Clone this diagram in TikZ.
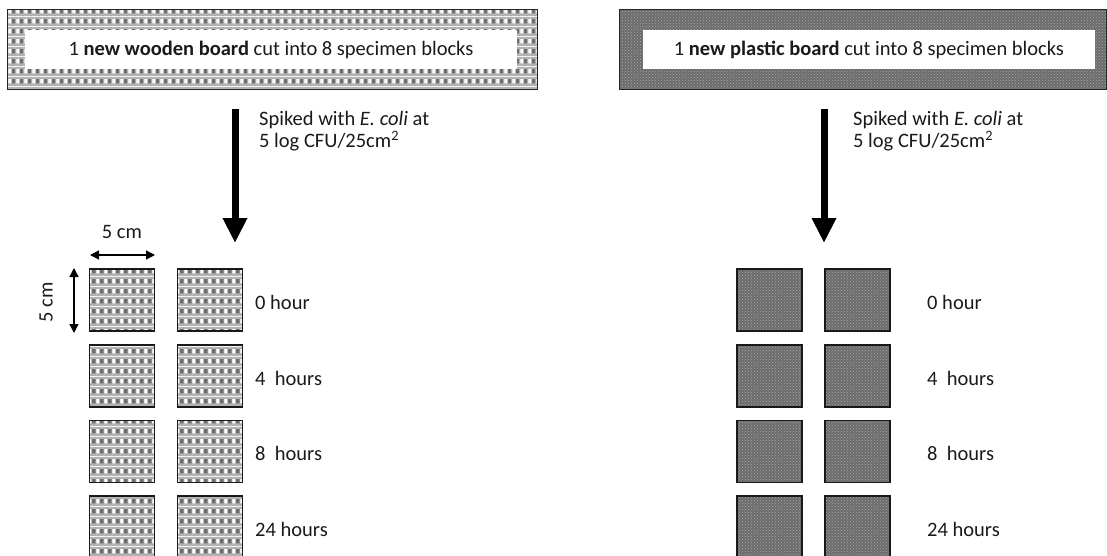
\documentclass[tikz,border=0pt]{standalone}
\usepackage{fontspec}
\setmainfont{Carlito}
\usetikzlibrary{arrows.meta,patterns}
\definecolor{woodgray}{HTML}{B2B2B2}
\definecolor{wooddark}{HTML}{6E6E6E}
\definecolor{plasticgray}{HTML}{6C6C6C}
\definecolor{plasticdot}{HTML}{A8A8A8}
\definecolor{txt}{HTML}{1A1A1A}
\pgfdeclarepatterninherentlycolored{woodgrid}{\pgfpointorigin}{\pgfqpoint{8pt}{10pt}}{\pgfqpoint{8pt}{10pt}}{%
  \pgfsetfillcolor{woodgray}\pgfpathrectangle{\pgfpointorigin}{\pgfqpoint{8pt}{10pt}}\pgfusepath{fill}%
  \pgfsetfillcolor{white}\pgfpathrectangle{\pgfqpoint{0.4pt}{2.8pt}}{\pgfqpoint{3.4pt}{4.6pt}}\pgfusepath{fill}%
  \pgfsetfillcolor{wooddark}\pgfpathrectangle{\pgfqpoint{4.4pt}{2.8pt}}{\pgfqpoint{3.4pt}{4.6pt}}\pgfusepath{fill}%
}
\newcommand{\fsz}{\fontsize{20.5pt}{22pt}\selectfont}
\begin{document}
\begin{tikzpicture}[x=1pt,y=-1pt,
  plastictex/.style={preaction={fill=plasticgray}, pattern=crosshatch dots, pattern color=plasticdot},
  woodbanner/.style={draw=black!85, line width=1pt, pattern=woodgrid, inner sep=0pt, outer sep=0pt, minimum width=530pt, minimum height=80pt},
  plasticbanner/.style={draw=black!85, line width=1pt, plastictex, inner sep=0pt, outer sep=0pt, minimum width=487pt, minimum height=80pt},
  whitebox/.style={fill=white, inner sep=0pt, outer sep=0pt, minimum height=38.5pt, text height=15pt, text depth=3pt, font=\fsz, text=txt},
  woodblock/.style={draw=black!90, line width=1.5pt, pattern=woodgrid, inner sep=0pt, minimum width=65pt, minimum height=62pt},
  plasticblock/.style={draw=black!90, line width=1.5pt, plastictex, inner sep=0pt, minimum width=65pt, minimum height=62pt},
  bigarrow/.style={line width=7pt, -{Triangle[width=23pt,length=25pt]}},
  dimarrow/.style={line width=1.3pt, {Triangle[width=9pt,length=9pt]}-{Triangle[width=9pt,length=9pt]}},
  lab/.style={font=\fsz, text=txt, inner sep=0pt},
  note/.style={font=\fsz, text=txt, inner sep=0pt, align=left, anchor=base west}
]
\useasboundingbox (0,0) rectangle (1107,556);
\clip (0,0) rectangle (1107,556);

% ---- wooden side ----
\node[woodbanner] (wb) at (272,50) {};
\node[whitebox, minimum width=492pt] (wt) at (271,49.75) {1 \textbf{new wooden board} cut into 8 specimen blocks};
\coordinate (wa1) at (235,109);
\coordinate (wa2) at (235,243);
\draw[bigarrow] (wa1) -- (wa2);
\node[note] (wn) at (259,148) {Spiked with \textit{E. coli} at\\5 log CFU/25cm\textsuperscript{2}};

\foreach \r/\y/\t in {1/300/0 hour,2/376/4\ \ hours,3/451.5/8\ \ hours,4/527/24 hours}{
  \node[woodblock] (wl\r) at (122,\y) {};
  \node[woodblock] (wr\r) at (210,\y) {};
  \node[lab, anchor=base west] (wlab\r) at (255,\y+9) {\t};
}
\coordinate (dh1) at (90,255);
\coordinate (dh2) at (155,255);
\draw[dimarrow] (dh1) -- (dh2);
\node[lab, anchor=base] (dhl) at (122,238) {5 cm};
\coordinate (dv1) at (74,268);
\coordinate (dv2) at (74,333);
\draw[dimarrow] (dv1) -- (dv2);
\node[lab, rotate=90] (dvl) at (46,302) {5 cm};

% ---- plastic side ----
\node[plasticbanner] (pb) at (862.5,50) {};
\node[whitebox, minimum width=452pt] (pt) at (869,49.75) {1 \textbf{new plastic board} cut into 8 specimen blocks};
\coordinate (pa1) at (824,109);
\coordinate (pa2) at (824,243);
\draw[bigarrow] (pa1) -- (pa2);
\node[note] (pn) at (853,148) {Spiked with \textit{E. coli} at\\5 log CFU/25cm\textsuperscript{2}};

\foreach \r/\y/\t in {1/300/0 hour,2/376/4\ \ hours,3/451.5/8\ \ hours,4/527/24 hours}{
  \node[plasticblock] (pl\r) at (769.5,\y) {};
  \node[plasticblock] (pr\r) at (857.5,\y) {};
  \node[lab, anchor=base west] (plab\r) at (927,\y+9) {\t};
}
\end{tikzpicture}
\end{document}
